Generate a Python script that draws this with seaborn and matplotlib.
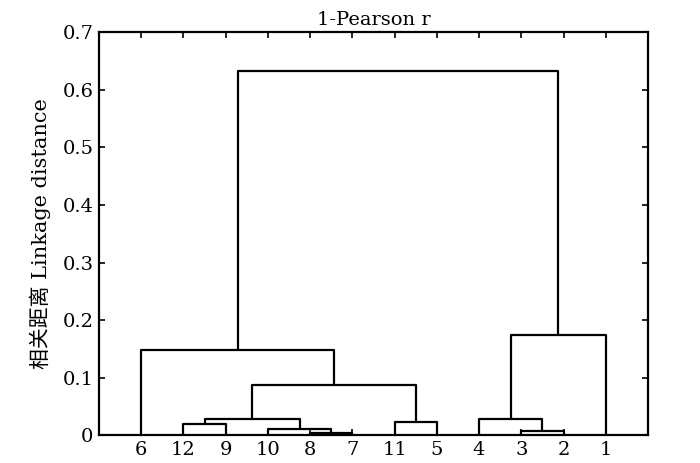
import numpy as np
import pandas as pd
import matplotlib
matplotlib.use('Agg')
import matplotlib.pyplot as plt
import seaborn as sns

# leaf order along the x axis
leaves = ['6', '12', '9', '10', '8', '7', '11', '5', '4', '3', '2', '1']

# merges: left child, right child, linkage distance (cN = N-th merge)
merge_left   = ['8', '3', '10', '12', '11', '4',  'c3',  'c6',  '6',   'c5',  'c8']
merge_right  = ['7', '2', 'c0', '9',  '5',  'c1', 'c2',  'c4',  'c7',  '1',   'c9']
merge_height = [0.005, 0.008, 0.012, 0.020, 0.024, 0.028, 0.029, 0.088, 0.148, 0.175, 0.632]

ytick_vals = [0, 0.1, 0.2, 0.3, 0.4, 0.5, 0.6, 0.7]
ytick_labels = ['0', '0.1', '0.2', '0.3', '0.4', '0.5', '0.6', '0.7']

sns.set_theme(style='white')
plt.rcParams['font.family'] = ['DejaVu Serif', 'Noto Sans CJK SC', 'DejaVu Sans']
plt.rcParams['axes.unicode_minus'] = False
plt.rcParams['text.color'] = 'black'
plt.rcParams['axes.labelcolor'] = 'black'

# node positions (x) and heights (y)
pos = {lab: i + 1 for i, lab in enumerate(leaves)}
hgt = {lab: 0.0 for lab in leaves}
rows = []
for k, (a, b, h) in enumerate(zip(merge_left, merge_right, merge_height)):
    xa, xb = pos[a], pos[b]
    for x, y in [(xa, hgt[a]), (xa, h), (xb, h), (xb, hgt[b])]:
        rows.append({'x': x, 'y': y, 'link': k})
    pos['c%d' % k] = (xa + xb) / 2.0
    hgt['c%d' % k] = h
links = pd.DataFrame(rows)

fig = plt.figure(figsize=(7.0, 4.63), dpi=100)
ax = fig.add_axes([0.1414, 0.0594, 0.7843, 0.8716])

sns.lineplot(data=links, x='x', y='y', units='link', estimator=None, sort=False,
             color='black', linewidth=1.6, legend=False, ax=ax)

ax.set_xlim(0, len(leaves) + 1)
ax.set_ylim(0, 0.7)
ax.set_xticks(range(1, len(leaves) + 1))
ax.set_xticklabels(leaves, fontsize=14)
ax.set_yticks(ytick_vals)
ax.set_yticklabels(ytick_labels, fontsize=14)
ax.tick_params(direction='in', length=4, width=1.2, top=True, right=True,
               bottom=True, left=True, pad=4, colors='black')

for sp in ax.spines.values():
    sp.set_visible(True)
    sp.set_color('black')
    sp.set_linewidth(1.6)

ax.set_xlabel('')
ax.set_ylabel('相关距离 Linkage distance', fontsize=15, color='black', labelpad=8)
ax.set_title('1-Pearson r', fontsize=14, color='black', pad=5)

fig.savefig('out.png', dpi=100, facecolor='white')
